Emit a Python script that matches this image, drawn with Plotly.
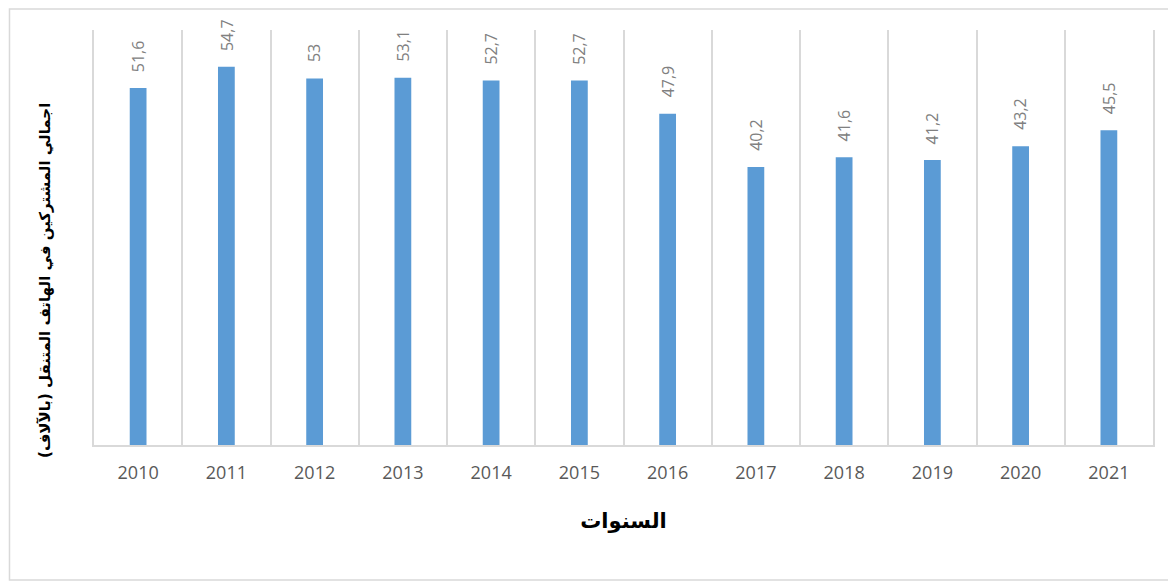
import plotly.graph_objects as go

years = ["2010", "2011", "2012", "2013", "2014", "2015", "2016", "2017", "2018", "2019", "2020", "2021"]
subscribers = [51.6, 54.7, 53.0, 53.1, 52.7, 52.7, 47.9, 40.2, 41.6, 41.2, 43.2, 45.5]
labels = [("%g" % v).replace(".", ",") for v in subscribers]

y_title = "اجمالي المشتركين في الهاتف المتنقل (بالآلاف)"
x_title = "السنوات"

fig = go.Figure()
fig.add_trace(go.Bar(
    x=years, y=subscribers, width=0.19,
    marker=dict(color="#5B9BD5", line=dict(width=0)),
    hoverinfo="x+y",
))

for i, (v, t) in enumerate(zip(subscribers, labels)):
    fig.add_annotation(
        x=i, y=v, text=t, textangle=-90, showarrow=False,
        xanchor="center", yanchor="bottom", yshift=14,
        font=dict(family="Open Sans", size=16, color="#808080"),
    )

fig.add_annotation(
    xref="paper", yref="paper", x=-0.0463, y=0.3976,
    text=y_title, textangle=-90, showarrow=False,
    xanchor="center", yanchor="middle",
    font=dict(family="DejaVu Sans", size=15, color="black", weight="bold"),
)

fig.update_layout(
    width=1168, height=577,
    margin=dict(l=86, r=23, t=22, b=140),
    paper_bgcolor="white", plot_bgcolor="white",
    showlegend=False,
    xaxis=dict(
        type="category", range=[-0.5, 11.5],
        tickson="boundaries", showgrid=True, gridcolor="#D9D9D9", gridwidth=2,
        showline=True, linecolor="#D9D9D9", linewidth=2,
        ticks="", ticklen=0, ticklabelstandoff=10,
        tickfont=dict(family="Open Sans", size=18, color="#595959"),
        title=dict(text=x_title, standoff=31,
                   font=dict(family="DejaVu Sans", size=21, color="black", weight="bold")),
    ),
    yaxis=dict(
        range=[0, 60], showgrid=False, zeroline=False, showticklabels=False, ticks="",
        showline=True, mirror=True, linecolor="#D9D9D9", linewidth=2,
    ),
    shapes=[dict(
        type="rect", xref="paper", yref="paper",
        x0=-0.0798, x1=1.016, y0=-0.3253, y1=1.0506,
        line=dict(color="#D9D9D9", width=1.5), fillcolor="rgba(0,0,0,0)", layer="below",
    )],
)

fig.write_html("out.html")
